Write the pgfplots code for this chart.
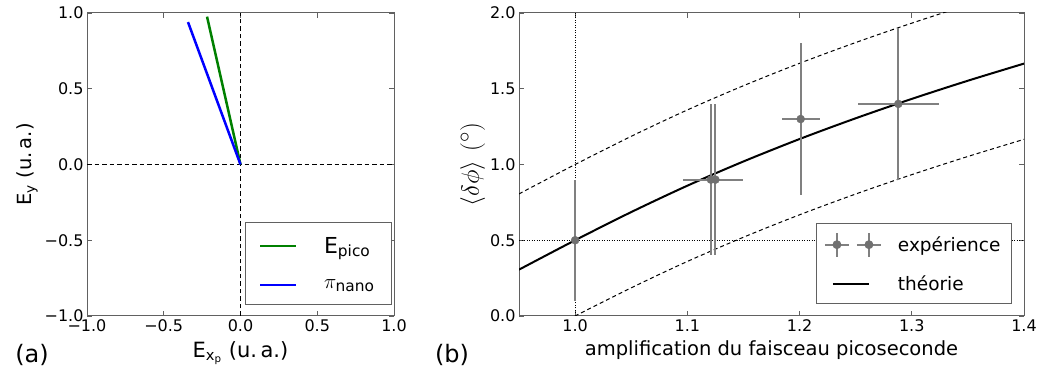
\documentclass[border=0pt]{standalone}
\usepackage{fontspec}
\setmainfont{DejaVu Sans}
\setsansfont{DejaVu Sans}
\usepackage{pgfplots}
\pgfplotsset{compat=1.18}
\usepackage{pgfplotstable}

\definecolor{mplgreen}{rgb}{0,0.5,0}
\definecolor{mplblue}{rgb}{0,0,1}
\definecolor{errgray}{rgb}{0.5,0.5,0.5}
\definecolor{mkgray}{rgb}{0.44,0.44,0.44}
\definecolor{framegray}{rgb}{0.38,0.38,0.38}

\pgfplotstableread{
x y
0.95 0.306
1.00 0.500
1.05 0.686
1.10 0.860
1.15 1.020
1.20 1.168
1.25 1.305
1.30 1.433
1.35 1.553
1.40 1.666
}\theorytab
\pgfplotstableread{
x y
0.95 0.806
1.00 1.000
1.05 1.186
1.10 1.360
1.15 1.520
1.20 1.668
1.25 1.805
1.30 1.933
1.35 2.053
1.40 2.166
}\uppertab
\pgfplotstableread{
x y
0.95 -0.194
1.00 0.000
1.05 0.186
1.10 0.360
1.15 0.520
1.20 0.668
1.25 0.805
1.30 0.933
1.35 1.053
1.40 1.166
}\lowertab
\pgfplotstableread{
x y ex ey
1.000 0.5 0.000 0.4
1.121 0.9 0.025 0.5
1.125 0.9 0.025 0.5
1.201 1.3 0.017 0.5
1.288 1.4 0.036 0.5
}\exptab

\pgfplotsset{
  mplstyle/.style={
    scale only axis,
    axis line style={framegray, line width=1pt},
    tick style={framegray, line width=0.8pt},
    tick align=inside,
    major tick length=5pt,
    tick label style={font=\fontsize{16}{19}\selectfont},
    label style={font=\fontsize{19.5}{23}\selectfont},
    clip=true,
  },
}

\begin{document}
\begin{tikzpicture}[x=1pt,y=1pt]
\useasboundingbox (0,0) rectangle (1041,377);
% ---------------- (a)
\begin{axis}[mplstyle,
  at={(87pt,61pt)}, anchor=south west,
  width=307pt, height=303pt,
  xmin=-1, xmax=1, ymin=-1, ymax=1,
  xtick={-1,-0.5,0,0.5,1}, xticklabels={−1.0,−0.5,0.0,0.5,1.0},
  ytick={-1,-0.5,0,0.5,1}, yticklabels={−1.0,−0.5,0.0,0.5,1.0},
  xlabel={E\textsubscript{x\textsubscript{p}} (u.\,a.)},
  xlabel style={font=\fontsize{21}{24}\selectfont, yshift=-3pt},
  ylabel={E\textsubscript{y} (u.\,a.)},
  legend style={at={(0.993,0.036)}, anchor=south east, draw=framegray, line width=0.8pt,
    font=\fontsize{22}{26}\selectfont, row sep=19pt, column sep=24pt,
    inner xsep=14pt, inner ysep=11.5pt, nodes={inner sep=3pt}},
  legend cell align=left,
  legend image code/.code={\draw[#1, line width=2pt] (0pt,0pt) -- (36pt,0pt);},
]
\addplot[black, dash pattern=on 4.5pt off 3pt, line width=1pt, forget plot] coordinates {(-1,0) (1,0)};
\addplot[black, dash pattern=on 4.5pt off 3pt, line width=1pt, forget plot] coordinates {(0,-1) (0,1)};
\addplot[mplgreen, line width=2.5pt] coordinates {(0,0) (-0.218,0.976)};
\addlegendentry{$\mathrm{E}_{\mathrm{pico}}$}
\addplot[mplblue, line width=2.5pt] coordinates {(0,0) (-0.342,0.940)};
\addlegendentry{$\pi_{\mathrm{nano}}$}
\end{axis}
% ---------------- (b)
\begin{axis}[mplstyle,
  at={(519pt,61pt)}, anchor=south west,
  width=505pt, height=303pt,
  xmin=0.95, xmax=1.4, ymin=0, ymax=2,
  xtick={1.0,1.1,1.2,1.3,1.4}, xticklabels={1.0,1.1,1.2,1.3,1.4},
  ytick={0,0.5,1,1.5,2}, yticklabels={0.0,0.5,1.0,1.5,2.0},
  xlabel={amplification du faisceau picoseconde},
  xlabel style={yshift=-2pt},
  ylabel={$\langle\delta\phi\rangle\ (^\circ)$},
  ylabel style={font=\fontsize{29}{32}\selectfont, yshift=-2pt},
  legend style={at={(0.976,0.04)}, anchor=south east, draw=framegray, line width=0.8pt,
    font=\fontsize{18.5}{22}\selectfont, row sep=15pt, column sep=13pt,
    inner xsep=8pt, inner ysep=8.5pt, nodes={inner sep=3pt}},
  legend cell align=left,
]
\addplot[black, dash pattern=on 1pt off 1.5pt, line width=0.8pt, forget plot] coordinates {(0.95,0.5) (1.4,0.5)};
\addplot[black, dash pattern=on 1pt off 1.5pt, line width=0.8pt, forget plot] coordinates {(1.0,0) (1.0,2)};
\addplot[black, dash pattern=on 4pt off 3pt, line width=1pt, smooth, forget plot] table[x=x,y=y] {\uppertab};
\addplot[black, dash pattern=on 4pt off 3pt, line width=1pt, smooth, forget plot] table[x=x,y=y] {\lowertab};
\addplot[black, line width=2pt, smooth, forget plot] table[x=x,y=y] {\theorytab};
\addplot[only marks, mark=*, mark size=4pt, mark options={fill=mkgray, draw=mkgray}, forget plot,
  error bars/.cd, x dir=both, x explicit, y dir=both, y explicit,
  error bar style={errgray, line width=2pt}, error mark=none]
  table[x=x, y=y, x error=ex, y error=ey] {\exptab};
\addlegendimage{legend image code/.code={
  \draw[errgray, line width=2pt] (12pt,-12pt) -- (12pt,12pt) (0pt,0pt) -- (24pt,0pt);
  \fill[mkgray] (12pt,0pt) circle (4pt);
  \draw[errgray, line width=2pt] (44pt,-12pt) -- (44pt,12pt) (32pt,0pt) -- (56pt,0pt);
  \fill[mkgray] (44pt,0pt) circle (4pt);
}}
\addlegendentry{expérience}
\addlegendimage{legend image code/.code={\draw[black, line width=2pt] (8pt,0pt) -- (44pt,0pt);}}
\addlegendentry{théorie}
\end{axis}
\node[font=\fontsize{24}{28}\selectfont] at (32,22) {(a)};
\node[font=\fontsize{24}{28}\selectfont] at (452,22) {(b)};
\end{tikzpicture}
\end{document}
